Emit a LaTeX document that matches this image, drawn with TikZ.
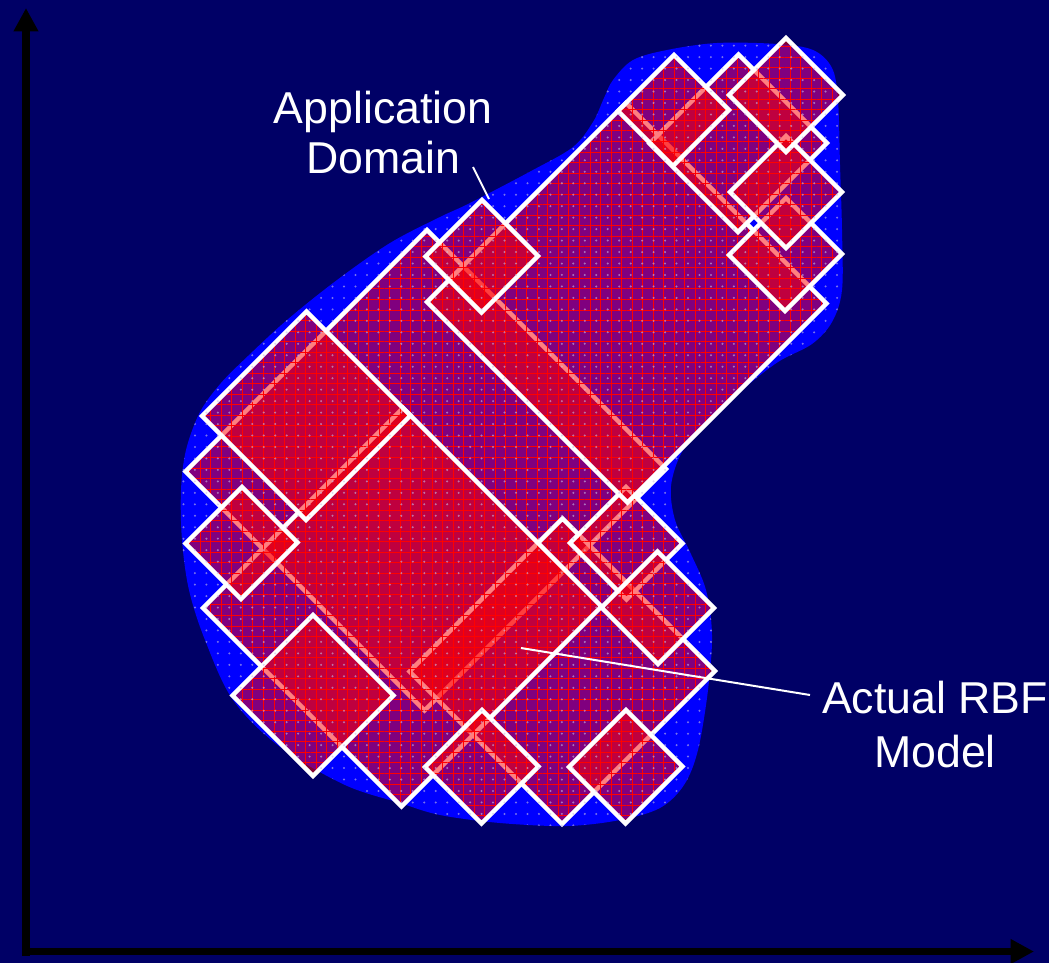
\documentclass[tikz,border=0pt]{standalone}
\usepackage{fontspec}
\setmainfont{Liberation Sans}
\usetikzlibrary{arrows.meta,patterns.meta}
\definecolor{navy}{RGB}{0,0,102}
\definecolor{blobblue}{RGB}{0,0,255}
\definecolor{dotgrey}{RGB}{200,190,230}

% outline of the application domain
\def\blobpath{plot[smooth cycle, tension=0.55] coordinates {
 (613,80) (633,60) (667,50) (717,43) (777,44) (813,50) (832,68) (838,100)
 (840,165) (842,230) (842,290) (832,322) (812,344) (778,362) (742,390)
 (707,422) (682,452) (671,486) (675,520) (690,552) (706,590) (712,635)
 (708,690) (698,750) (684,785) (660,808) (620,820) (567,826) (500,823)
 (440,815) (400,803) (345,785) (280,747) (233,700) (205,640) (189,590)
 (182,540) (181,490) (186,450) (200,412) (221,383) (248,356) (287,320)
 (337,280) (390,243) (440,217) (470,203) (533,170) (573,147) (593,122)
 (604,98)}}

% one receptive field: u = x+y and v = x-y ranges, in pixels
\newcommand\rbfbox[4]{%
  \fill[red, fill opacity=0.5] (#1,#2) -- (#3,#2) -- (#3,#4) -- (#1,#4) -- cycle;
  \fill[pattern={Hatch[angle=0,distance=7.9pt,line width=0.55pt]},
        pattern color=red, fill opacity=0.45]
        (#1,#2) -- (#3,#2) -- (#3,#4) -- (#1,#4) -- cycle;
  \draw[white, line width=3.4pt, line join=miter]
        (#1,#2) -- (#3,#2) -- (#3,#4) -- (#1,#4) -- cycle;
}

\begin{document}
\begin{tikzpicture}[x=0.75pt, y=-0.75pt,
  lbl/.style={text=white, inner sep=0pt, font=\fontsize{33.5}{40}\selectfont},
  leader/.style={draw=white, line width=1.5pt},
  axis/.style={draw=black, line width=5.6pt, -{Triangle[length=17.5pt,width=17.5pt]}}]

\fill[navy] (0,0) rectangle (1049,963);
\useasboundingbox (0,0) rectangle (1049,963);

% application domain
\fill[blobblue] \blobpath;

% rotated receptive fields, in (u,v) coordinates
\begin{scope}[x={(0.375pt,-0.375pt)}, y={(0.375pt,0.375pt)}]
  \rbfbox{657}{-286}{1135}{197}
  \rbfbox{1081}{-262}{1386}{44}
  \rbfbox{811}{-405}{1208}{-5}
  \rbfbox{618}{-214}{826}{-5}
  \rbfbox{729}{-358}{840}{-245}
  \rbfbox{928}{-463}{1089}{-302}
  \rbfbox{1192}{-342}{1305}{-228}
  \rbfbox{1336}{-198}{1449}{-84}
  \rbfbox{1113}{27}{1226}{139}
  \rbfbox{1209}{-6}{1322}{106}
  \rbfbox{729}{125}{1130}{523}
  \rbfbox{682}{169}{794}{282}
  \rbfbox{793}{506}{970}{684}
  \rbfbox{984}{474}{1096}{588}
  \rbfbox{922}{538}{1034}{650}
  \rbfbox{729}{507}{839}{619}
  \rbfbox{824}{634}{938}{748}
\end{scope}

% dotted texture over the domain
\fill[pattern={Dots[radius=0.85pt,distance=8.6pt]}, pattern color=dotgrey,
      fill opacity=0.6] \blobpath;

% labels and leaders
\node[lbl, anchor=base] (app1) at (383,124) {Application};
\node[lbl, anchor=base] (app2) at (383,174) {Domain};
\coordinate (appFrom) at (473,167);
\coordinate (appTo) at (489,199);
\draw[leader] (appFrom) -- (appTo);

\node[lbl, anchor=base] (rbf1) at (935,713) {Actual RBF};
\node[lbl, anchor=base] (rbf2) at (935,767) {Model};
\coordinate (rbfFrom) at (810,695);
\coordinate (rbfTo) at (521,648);
\draw[leader] (rbfFrom) -- (rbfTo);

% axes
\coordinate (origin) at (26,956);
\coordinate (yTip) at (26,8);
\coordinate (xStart) at (22,951.5);
\coordinate (xTip) at (1034,951.5);
\draw[axis] (origin) -- (yTip);
\draw[axis] (xStart) -- (xTip);
\end{tikzpicture}
\end{document}
